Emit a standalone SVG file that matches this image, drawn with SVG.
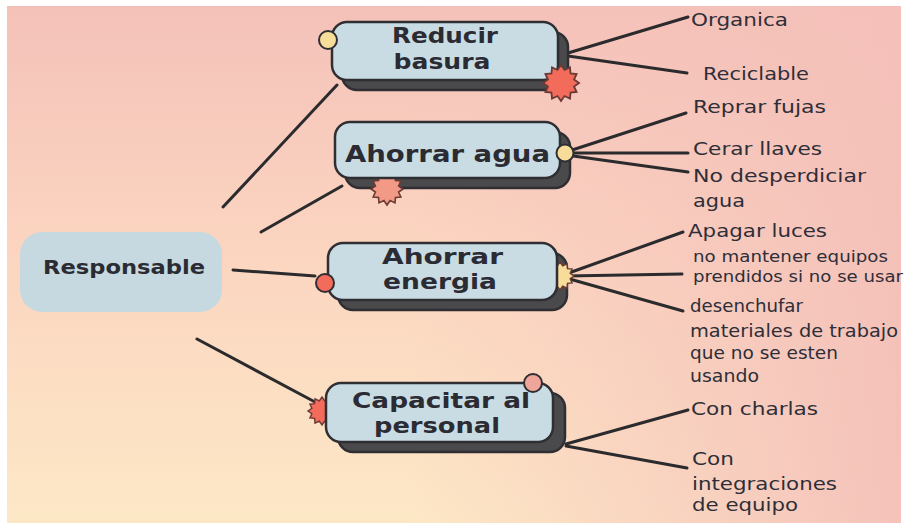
<svg xmlns="http://www.w3.org/2000/svg" width="904" height="524" viewBox="0 0 904 524">
<defs>
<linearGradient id="bgv" x1="0" y1="0" x2="0" y2="1">
<stop offset="0" stop-color="#f4c1b9"/>
<stop offset="0.45" stop-color="#fbd4c0"/>
<stop offset="1" stop-color="#fde8c6"/>
</linearGradient>
<linearGradient id="bgh" x1="0" y1="0" x2="1" y2="0">
<stop offset="0.45" stop-color="#f6c4bc" stop-opacity="0"/>
<stop offset="1" stop-color="#f4c0b9" stop-opacity="0.95"/>
</linearGradient>
<polygon id="burst" points="10,0 7.24,1.94 8.66,5 5.3,5.3 5,8.66 1.94,7.24 0,10 -1.94,7.24 -5,8.66 -5.3,5.3 -8.66,5 -7.24,1.94 -10,0 -7.24,-1.94 -8.66,-5 -5.3,-5.3 -5,-8.66 -1.94,-7.24 0,-10 1.94,-7.24 5,-8.66 5.3,-5.3 8.66,-5 7.24,-1.94"/>
</defs>
<style>
.box{fill:#c9dce4;stroke:#2f2f33;stroke-width:2.5}
.shadow{fill:#4a4a4d;stroke:#2f2f33;stroke-width:2.5}
.lbl{font-family:"DejaVu Sans","Liberation Sans",sans-serif;font-weight:bold;fill:#2b2b33;text-anchor:middle}
.leaf{font-family:"DejaVu Sans","Liberation Sans",sans-serif;fill:#2e2e38}
.con{stroke:#2b2b2e;stroke-width:3;stroke-linecap:round;fill:none}
.dot{stroke:#2f2f33;stroke-width:2}
.bst{stroke:#6b3a34;stroke-width:1;vector-effect:non-scaling-stroke}
</style>
<rect x="0" y="0" width="904" height="524" fill="#ffffff"/>
<rect x="7" y="6" width="894" height="517" fill="url(#bgv)"/>
<rect x="7" y="6" width="894" height="517" fill="url(#bgh)"/>

<g id="connectors">
<line class="con" x1="223" y1="207" x2="337" y2="85"/>
<line class="con" x1="261" y1="232" x2="342" y2="186"/>
<line class="con" x1="233" y1="270" x2="315" y2="276"/>
<line class="con" x1="197" y1="339" x2="315" y2="402"/>
<line class="con" x1="568" y1="53" x2="688" y2="17"/>
<line class="con" x1="568" y1="56" x2="687" y2="73"/>
<line class="con" x1="566" y1="152" x2="686" y2="113"/>
<line class="con" x1="566" y1="153" x2="688" y2="153"/>
<line class="con" x1="566" y1="155" x2="688" y2="172"/>
<line class="con" x1="566" y1="274" x2="683" y2="232"/>
<line class="con" x1="566" y1="276" x2="682" y2="274"/>
<line class="con" x1="566" y1="278" x2="683" y2="311"/>
<line class="con" x1="566" y1="444" x2="688" y2="410"/>
<line class="con" x1="566" y1="446" x2="687" y2="468"/>
</g>

<g id="responsable">
<rect x="20" y="232" width="202" height="80" rx="22" fill="#c6d9e0"/>
<text class="lbl" x="124" y="274" font-size="19.5" textLength="162" lengthAdjust="spacingAndGlyphs">Responsable</text>
</g>

<g id="reducir-basura">
<rect class="shadow" x="342" y="32" width="226" height="58" rx="15"/>
<rect class="box" x="332" y="22" width="226" height="58" rx="15"/>
<circle class="dot" cx="328" cy="40" r="9" fill="#f7dc9a"/>
<use href="#burst" class="bst" fill="#f26b5b" transform="translate(561,83) scale(1.8)"/>
<text class="lbl" x="445" y="43" font-size="21" textLength="106" lengthAdjust="spacingAndGlyphs">Reducir</text>
<text class="lbl" x="442" y="69" font-size="21" textLength="97" lengthAdjust="spacingAndGlyphs">basura</text>
</g>

<g id="ahorrar-agua">
<rect class="shadow" x="345" y="132" width="225" height="56" rx="15"/>
<use href="#burst" class="bst" fill="#f29a86" transform="translate(387,189) scale(1.6)"/>
<rect class="box" x="335" y="122" width="225" height="56" rx="15"/>
<circle class="dot" cx="565" cy="153" r="8.5" fill="#f7dc9a"/>
<text class="lbl" x="447.5" y="162" font-size="23" textLength="205" lengthAdjust="spacingAndGlyphs">Ahorrar agua</text>
</g>

<g id="ahorrar-energia">
<rect class="shadow" x="338" y="253" width="229" height="57" rx="15"/>
<use href="#burst" class="bst" fill="#f7dc9a" transform="translate(560,276) scale(1.4)"/>
<rect class="box" x="328" y="243" width="229" height="57" rx="15"/>
<circle class="dot" cx="325" cy="283" r="9" fill="#f26b5b"/>
<text class="lbl" x="442.5" y="264" font-size="22" textLength="121" lengthAdjust="spacingAndGlyphs">Ahorrar</text>
<text class="lbl" x="440" y="289" font-size="22" textLength="114" lengthAdjust="spacingAndGlyphs">energia</text>
</g>

<g id="capacitar-personal">
<rect class="shadow" x="338" y="393" width="227" height="59" rx="15"/>
<use href="#burst" class="bst" fill="#f26b5b" transform="translate(322,411) scale(1.4)"/>
<rect class="box" x="326" y="383" width="227" height="59" rx="15"/>
<circle class="dot" cx="533" cy="383" r="9" fill="#f0a59a"/>
<text class="lbl" x="441" y="408" font-size="22" textLength="178" lengthAdjust="spacingAndGlyphs">Capacitar al</text>
<text class="lbl" x="437" y="433" font-size="22" textLength="126" lengthAdjust="spacingAndGlyphs">personal</text>
</g>

<g id="leaves">
<text class="leaf" x="691" y="26" font-size="18" textLength="97" lengthAdjust="spacingAndGlyphs">Organica</text>
<text class="leaf" x="703" y="80" font-size="18" textLength="106" lengthAdjust="spacingAndGlyphs">Reciclable</text>
<text class="leaf" x="693" y="113" font-size="18" textLength="133" lengthAdjust="spacingAndGlyphs">Reprar fujas</text>
<text class="leaf" x="693" y="155" font-size="18" textLength="129" lengthAdjust="spacingAndGlyphs">Cerar llaves</text>
<text class="leaf" x="693" y="182" font-size="18" textLength="173" lengthAdjust="spacingAndGlyphs">No desperdiciar</text>
<text class="leaf" x="693" y="207" font-size="18" textLength="52" lengthAdjust="spacingAndGlyphs">agua</text>
<text class="leaf" x="688" y="237" font-size="18" textLength="139" lengthAdjust="spacingAndGlyphs">Apagar luces</text>
<text class="leaf" x="693" y="262" font-size="15.5" textLength="195" lengthAdjust="spacingAndGlyphs">no mantener equipos</text>
<text class="leaf" x="693" y="282" font-size="15.5" textLength="210" lengthAdjust="spacingAndGlyphs">prendidos si no se usar</text>
<text class="leaf" x="690" y="312" font-size="17" textLength="113" lengthAdjust="spacingAndGlyphs">desenchufar</text>
<text class="leaf" x="690" y="337" font-size="17" textLength="208" lengthAdjust="spacingAndGlyphs">materiales de trabajo</text>
<text class="leaf" x="690" y="359" font-size="17" textLength="148" lengthAdjust="spacingAndGlyphs">que no se esten</text>
<text class="leaf" x="690" y="382" font-size="17" textLength="69" lengthAdjust="spacingAndGlyphs">usando</text>
<text class="leaf" x="691" y="415" font-size="18" textLength="127" lengthAdjust="spacingAndGlyphs">Con charlas</text>
<text class="leaf" x="692" y="465" font-size="18" textLength="42" lengthAdjust="spacingAndGlyphs">Con</text>
<text class="leaf" x="692" y="490" font-size="18" textLength="145" lengthAdjust="spacingAndGlyphs">integraciones</text>
<text class="leaf" x="692" y="511" font-size="18" textLength="106" lengthAdjust="spacingAndGlyphs">de equipo</text>
</g>
</svg>
